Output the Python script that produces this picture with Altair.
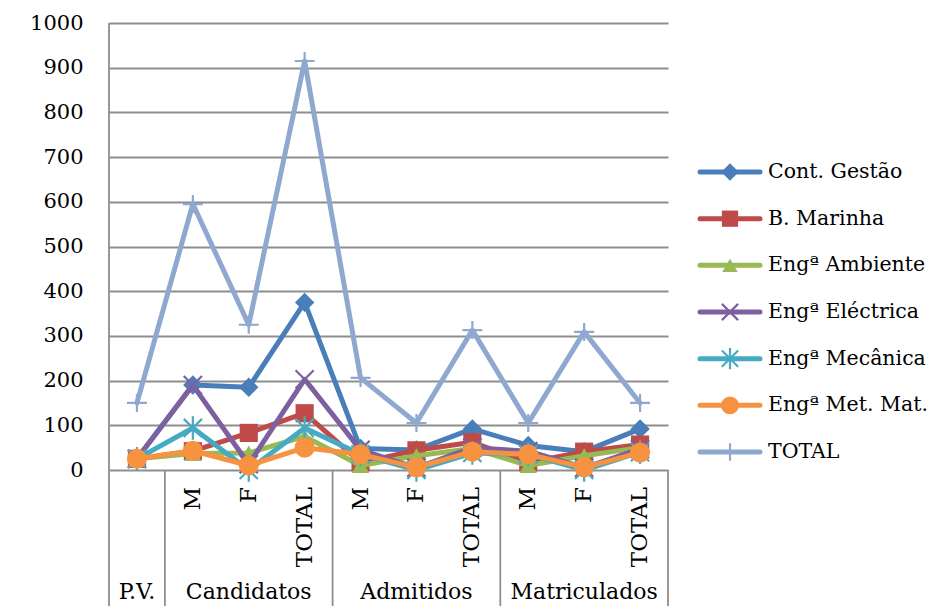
import altair as alt
import pandas as pd

categories = ["P.V.", "M", "F", "TOTAL", "M", "F", "TOTAL", "M", "F", "TOTAL"]
groups = ["P.V.", "Candidatos", "Admitidos", "Matriculados"]
group_first = [0, 1, 4, 7]
group_last = [0, 3, 6, 9]
boundaries = [0.5, 3.5, 6.5, 9.5]

series_names = ["Cont. Gestão", "B. Marinha", "Engª Ambiente", "Engª Eléctrica",
                "Engª Mecânica", "Engª Met. Mat.", "TOTAL"]
cont_gestao = [25, 190, 185, 375, 48, 45, 92, 55, 41, 92]
b_marinha = [25, 42, 83, 127, 17, 44, 62, 17, 41, 57]
eng_ambiente = [25, 37, 38, 75, 10, 32, 48, 10, 32, 50]
eng_electrica = [25, 190, 13, 203, 45, 5, 50, 42, 5, 47]
eng_mecanica = [25, 94, 0, 94, 35, 0, 38, 35, 0, 40]
eng_met_mat = [25, 43, 10, 50, 35, 6, 41, 35, 6, 39]
total = [150, 595, 325, 915, 206, 105, 313, 105, 309, 150]
series_values = [cont_gestao, b_marinha, eng_ambiente, eng_electrica,
                 eng_mecanica, eng_met_mat, total]

colors = ["#4A7EBB", "#BE4B48", "#98B954", "#7D60A0", "#46AAC5", "#F69240", "#8EA8D0"]
X_PATH = "M-1,-1L1,1M-1,1L1,-1"
AST_PATH = "M-1,-1L1,1M-1,1L1,-1M0,-1.3L0,1.3"
PLUS_PATH = "M-1,0L1,0M0,-0.9L0,0.9"
shapes = ["diamond", "square", "triangle-up", X_PATH, AST_PATH, "circle", PLUS_PATH]
filled = [True, True, True, False, False, True, False]
sizes = [380, 330, 300, 330, 330, 400, 400]

FONT = "DejaVu Serif"
GRID = "#8E8E8E"
W, H = 559, 447

rows = []
for name, vals in zip(series_names, series_values):
    for i, (c, v) in enumerate(zip(categories, vals)):
        rows.append({"series": name, "idx": i, "cat": c, "value": v})
df = pd.DataFrame(rows)

xenc = alt.X("idx:Q", scale=alt.Scale(domain=[-0.5, 9.5], nice=False, zero=False), axis=None)
yenc = alt.Y("value:Q", scale=alt.Scale(domain=[0, 1000], nice=False),
             axis=alt.Axis(values=list(range(0, 1001, 100)), format="d", grid=True,
                           gridColor=GRID, gridWidth=1.8, ticks=False, domain=False,
                           labelFont=FONT, labelFontSize=21, labelColor="#000000",
                           labelPadding=26, title=None))

layers = []

# y axis line extending into the category area
layers.append(alt.Chart(pd.DataFrame({"idx": [-0.5]})).mark_rule(color=GRID, strokeWidth=1.8).encode(
    x=xenc, y=alt.value(0), y2=alt.value(600)))
# outer chart border (left)
layers.append(alt.Chart(pd.DataFrame({"idx": [0]})).mark_rule(color="#868686", strokeWidth=1.5).encode(
    x=alt.value(-102), y=alt.value(-30), y2=alt.value(600)))
# group separators
layers.append(alt.Chart(pd.DataFrame({"idx": boundaries})).mark_rule(color=GRID, strokeWidth=1.8).encode(
    x=xenc, y=alt.value(H), y2=alt.value(600)))

# series
for i, name in enumerate(series_names):
    sub = df[df.series == name]
    base = alt.Chart(sub)
    layers.append(base.mark_line(color=colors[i], strokeWidth=5, strokeJoin="round",
                                 strokeCap="round").encode(x=xenc, y=yenc))
    if filled[i]:
        pts = base.mark_point(shape=shapes[i], filled=True, size=sizes[i], color=colors[i], opacity=1)
    else:
        pts = base.mark_point(shape=shapes[i], filled=False, size=sizes[i], color=colors[i],
                              strokeWidth=2.2, opacity=1)
    layers.append(pts.encode(x=xenc, y=yenc))

# category labels (rotated)
cat_df = pd.DataFrame({"idx": list(range(len(categories))), "cat": categories})
cat_df = cat_df[cat_df.idx > 0]
layers.append(alt.Chart(cat_df).mark_text(angle=270, align="right", baseline="middle",
                                          font=FONT, fontSize=23, color="#000000").encode(
    x=xenc, y=alt.value(H + 17), text="cat:N"))

# group labels
grp_df = pd.DataFrame({"idx": [(a + b) / 2 for a, b in zip(group_first, group_last)], "grp": groups})
layers.append(alt.Chart(grp_df).mark_text(align="center", baseline="bottom",
                                          font=FONT, fontSize=22, color="#000000").encode(
    x=xenc, y=alt.value(581), text="grp:N"))

# legend
LEG_X0, LEG_X1, LEG_M, LEG_T = 591, 651, 621, 659
for i, name in enumerate(series_names):
    ly = 149 + i * 46.67
    ldf = pd.DataFrame({"series": [name]})
    lb = alt.Chart(ldf)
    layers.append(lb.mark_rule(color=colors[i], strokeWidth=5, strokeCap="round").encode(
        x=alt.value(LEG_X0), x2=alt.value(LEG_X1), y=alt.value(ly)))
    if i == 6:
        layers.append(lb.mark_point(shape="M0,-1L0,1", filled=False, size=300, color=colors[i],
                                    strokeWidth=2.2, opacity=1).encode(
            x=alt.value(LEG_M), y=alt.value(ly)))
    elif filled[i]:
        layers.append(lb.mark_point(shape=shapes[i], filled=True, size=sizes[i] * 0.8,
                                    color=colors[i], opacity=1).encode(
            x=alt.value(LEG_M), y=alt.value(ly)))
    else:
        layers.append(lb.mark_point(shape=shapes[i], filled=False, size=sizes[i] * 0.8,
                                    color=colors[i], strokeWidth=2.2, opacity=1).encode(
            x=alt.value(LEG_M), y=alt.value(ly)))
    layers.append(lb.mark_text(align="left", baseline="middle", font=FONT, fontSize=20.5,
                               color="#000000").encode(
        x=alt.value(LEG_T), y=alt.value(ly), text="series:N"))

chart = alt.layer(*layers).properties(
    width=W, height=H,
    autosize=alt.AutoSizeParams(type="none"),
    padding={"left": 101, "top": 15, "right": 262, "bottom": 136},
    background="white",
).configure_view(stroke=None)

chart.save("out.html", embed_options={"renderer": "svg", "actions": False})
